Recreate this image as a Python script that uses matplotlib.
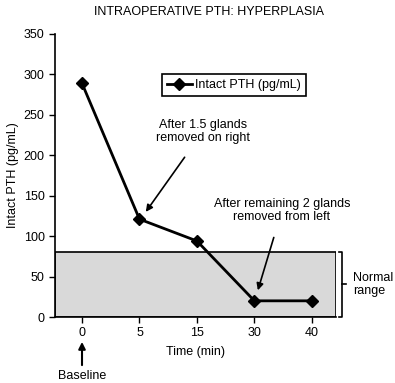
import matplotlib
matplotlib.use("Agg")
import matplotlib.pyplot as plt

plt.rcParams['font.family'] = ['Liberation Sans', 'DejaVu Sans']

time_labels = ["0", "5", "15", "30", "40"]
pth_values = [289, 121, 94, 20, 20]
normal_upper = 81
y_ticks = [0, 50, 100, 150, 200, 250, 300, 350]

FS = 9

fig = plt.figure(figsize=(3.95, 3.83), dpi=100)
ax = fig.add_axes([55/395, 1-317/383, 281/395, 283/383])

x = list(range(len(time_labels)))
ax.set_xlim(-0.47, 4.42)
ax.set_ylim(0, 350)

ax.add_patch(plt.Rectangle((-0.47, 0), 4.89, normal_upper, facecolor='#d9d9d9',
                           edgecolor='black', linewidth=1.2, zorder=1))

ax.plot(x, pth_values, color='black', linewidth=2, marker='D', markersize=6.5,
        label='Intact PTH (pg/mL)', zorder=3)

for s in ['top', 'right']:
    ax.spines[s].set_visible(False)
ax.spines['left'].set_linewidth(1.2)
ax.spines['bottom'].set_linewidth(1.2)
ax.set_xticks(x)
ax.set_xticklabels(time_labels)
ax.set_yticks(y_ticks)
ax.tick_params(labelsize=FS, length=4, width=1)
ax.set_xlabel('Time (min)', fontsize=FS, labelpad=5)
ax.set_ylabel('Intact PTH (pg/mL)', fontsize=FS, labelpad=3)

leg = ax.legend(loc='upper center', bbox_to_anchor=(0.637, 0.88), fontsize=FS,
                fancybox=False, edgecolor='black', framealpha=1, handlelength=2.0,
                handletextpad=0.3, borderpad=0.4)
leg.get_frame().set_linewidth(1.2)

ax.annotate('After 1.5 glands\nremoved on right', xy=(1.11, 130), xytext=(2.10, 229),
            ha='center', va='center', fontsize=FS, linespacing=1.1,
            arrowprops=dict(arrowstyle='-|>', color='black', lw=1.2,
                            shrinkA=9, shrinkB=0, mutation_scale=10))
ax.annotate('After remaining 2 glands\nremoved from left', xy=(3.06, 33), xytext=(3.48, 132),
            ha='center', va='center', fontsize=FS, linespacing=1.1,
            arrowprops=dict(arrowstyle='-|>', color='black', lw=1.2,
                            shrinkA=9, shrinkB=0, mutation_scale=10))

# Baseline arrow
ax.annotate('', xy=(0, -0.088), xytext=(0, -0.17), xycoords=('data', 'axes fraction'),
            textcoords=('data', 'axes fraction'),
            arrowprops=dict(arrowstyle='-|>', color='black', lw=1.5, shrinkA=0, shrinkB=0,
                            mutation_scale=10), annotation_clip=False)
ax.text(0, -0.21, 'Baseline', transform=ax.get_xaxis_transform(), ha='center', va='center',
        fontsize=FS, clip_on=False)

# Normal range bracket
bx0, bx1, bx2 = 4.47, 4.53, 4.6
ax.plot([bx0, bx1, bx1, bx0], [normal_upper, normal_upper, 0, 0], color='black', lw=1.2,
        clip_on=False)
ax.plot([bx1, bx2], [normal_upper/2, normal_upper/2], color='black', lw=1.2, clip_on=False)
ax.text(4.72, normal_upper/2, 'Normal\nrange', ha='left', va='center', fontsize=FS,
        linespacing=1.1, clip_on=False)

fig.text(209/395, 1-12/383, 'INTRAOPERATIVE PTH: HYPERPLASIA', ha='center', va='center',
         fontsize=FS)

fig.savefig('out.png', dpi=100)
